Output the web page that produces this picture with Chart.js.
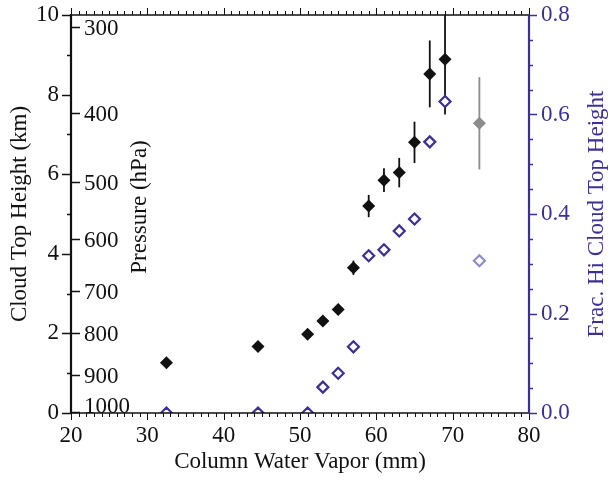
<!DOCTYPE html>
<html>
<head>
<meta charset="utf-8">
<script src="https://cdn.jsdelivr.net/npm/chart.js@4/dist/chart.umd.min.js"></script>
<style>
  html, body { margin: 0; padding: 0; background: #fff; }
  #wrap { width: 608px; height: 482px; position: relative; }
</style>
</head>
<body>
<div id="wrap"><canvas id="chart"></canvas></div>
<script>
// ===== DATA =====
const cwv = [32.5, 44.5, 51, 53, 55, 57, 59, 61, 63, 65, 67, 69];
const cloudTopKm = [1.26, 1.67, 1.98, 2.31, 2.6, 3.65, 5.2, 5.85, 6.04, 6.8, 8.52, 8.89];
const cloudTopErr = [0.1, 0.1, 0.12, 0.12, 0.14, 0.18, 0.28, 0.3, 0.37, 0.52, 0.84, 1.39];
const fracHi = [0, 0, 0, 0.052, 0.08, 0.133, 0.316, 0.328, 0.366, 0.39, 0.545, 0.626];

const cwvOutlier = [73.5];
const cloudTopKmOutlier = [7.28];
const cloudTopErrOutlier = [1.16];
const fracHiOutlier = [0.306];

const pressureLabels = [300, 400, 500, 600, 700, 800, 900, 1000];
const pressureKm = [9.71, 7.55, 5.8, 4.36, 3.07, 2.0, 0.95, 0.03];

const BLUE = '#3b3093';
const FONT = "'Liberation Serif', 'Times New Roman', serif";

const toPoints = (xs, ys) => xs.map((x, i) => ({ x, y: ys[i] }));

// fixed box sizes so the plot area lands where the figure has it
function fixBox(size) {
  return (scale) => {
    if (scale.isHorizontal()) scale.height = size;
    else scale.width = size;
    scale.paddingTop = 0;
    scale.paddingBottom = 0;
    scale.paddingLeft = 0;
    scale.paddingRight = 0;
  };
}

// error bars, ticks, frame and the pressure axis
const framePlugin = {
  id: 'frame',
  beforeDatasetsDraw(chart) {
    const { ctx, chartArea: a, scales: { x, y } } = chart;
    ctx.save();
    ctx.beginPath();
    ctx.rect(a.left, a.top, a.right - a.left, a.bottom - a.top);
    ctx.clip();
    const bars = (xs, ys, errs, color) => {
      ctx.strokeStyle = color;
      ctx.lineWidth = 1.8;
      xs.forEach((v, i) => {
        const px = x.getPixelForValue(v);
        ctx.beginPath();
        ctx.moveTo(px, y.getPixelForValue(ys[i] - errs[i]));
        ctx.lineTo(px, y.getPixelForValue(ys[i] + errs[i]));
        ctx.stroke();
      });
    };
    bars(cwv, cloudTopKm, cloudTopErr, '#111');
    bars(cwvOutlier, cloudTopKmOutlier, cloudTopErrOutlier, '#8c8c8c');
    ctx.restore();
  },
  afterDraw(chart) {
    const { ctx, chartArea: a, scales: { x, y, y1 } } = chart;
    ctx.save();
    const line = (x0, y0, x1, y1_, color, w) => {
      ctx.strokeStyle = color;
      ctx.lineWidth = w;
      ctx.beginPath();
      ctx.moveTo(x0, y0);
      ctx.lineTo(x1, y1_);
      ctx.stroke();
    };

    // x ticks, bottom and top, outward
    for (let v = 20; v <= 80; v++) {
      const px = Math.round(x.getPixelForValue(v)) + 0.5;
      const len = v % 10 === 0 ? 7 : 4;
      line(px, a.bottom, px, a.bottom + len, '#111', 1);
      line(px, a.top, px, a.top - len, '#111', 1);
    }
    // left height ticks, outward
    for (let v = 0; v <= 10; v++) {
      const py = Math.round(y.getPixelForValue(v)) + 0.5;
      line(a.left, py, a.left - (v % 2 === 0 ? 9 : 4), py, '#111', 1.5);
    }
    // right fraction ticks, outward
    for (let k = 0; k <= 16; k++) {
      const py = Math.round(y1.getPixelForValue(k * 0.05)) + 0.5;
      line(a.right, py, a.right + (k % 4 === 0 ? 8 : 4), py, BLUE, 1.5);
    }
    // pressure ticks and labels, inward
    ctx.font = '23px ' + FONT;
    ctx.fillStyle = '#111';
    ctx.textAlign = 'left';
    ctx.textBaseline = 'middle';
    pressureKm.forEach((h, i) => {
      const py = Math.round(y.getPixelForValue(h)) + 0.5;
      line(a.left, py, a.left + 9, py, '#111', 1.5);
      ctx.fillText(String(pressureLabels[i]), a.left + 13, Math.min(py + 1, a.bottom - 6));
    });

    // frame
    line(a.left, a.top, a.right, a.top, '#111', 1.5);
    line(a.left, a.bottom, a.right, a.bottom, '#111', 1.5);
    line(a.left, a.top - 1, a.left, a.bottom + 1, '#111', 2.2);
    line(a.right, a.top, a.right, a.bottom + 1, BLUE, 2.2);

    // rotated titles
    ctx.textAlign = 'center';
    ctx.save();
    ctx.translate(140, 207);
    ctx.rotate(-Math.PI / 2);
    ctx.fillStyle = '#111';
    ctx.fillText('Pressure (hPa)', 0, 0);
    ctx.restore();
    ctx.save();
    ctx.translate(597, (a.top + a.bottom) / 2);
    ctx.rotate(-Math.PI / 2);
    ctx.fillStyle = BLUE;
    ctx.fillText('Frac. Hi Cloud Top Height', 0, 0);
    ctx.restore();
    ctx.restore();
  },
};

new Chart(document.getElementById('chart').getContext('2d'), {
  type: 'scatter',
  data: {
    datasets: [
      {
        label: 'Cloud top height',
        data: toPoints(cwv, cloudTopKm),
        yAxisID: 'y',
        pointStyle: 'rectRot',
        pointRadius: 6.5,
        backgroundColor: '#111',
        borderColor: '#111',
        borderWidth: 0,
      },
      {
        label: 'Cloud top height (outlier)',
        data: toPoints(cwvOutlier, cloudTopKmOutlier),
        yAxisID: 'y',
        pointStyle: 'rectRot',
        pointRadius: 6.5,
        backgroundColor: '#8c8c8c',
        borderColor: '#8c8c8c',
        borderWidth: 0,
      },
      {
        label: 'Frac. Hi',
        data: toPoints(cwv, fracHi),
        yAxisID: 'y1',
        pointStyle: 'rectRot',
        pointRadius: 5.5,
        backgroundColor: '#fff',
        borderColor: BLUE,
        borderWidth: 2.2,
        clip: 0,
      },
      {
        label: 'Frac. Hi (outlier)',
        data: toPoints(cwvOutlier, fracHiOutlier),
        yAxisID: 'y1',
        pointStyle: 'rectRot',
        pointRadius: 5.5,
        backgroundColor: '#fff',
        borderColor: '#8f8ccc',
        borderWidth: 2.2,
        clip: 0,
      },
    ],
  },
  options: {
    responsive: true,
    maintainAspectRatio: false,
    animation: false,
    layout: { padding: { top: 15, left: 0, right: 0, bottom: 0 } },
    plugins: { legend: { display: false }, tooltip: { enabled: false } },
    scales: {
      x: {
        type: 'linear',
        min: 20,
        max: 80,
        grid: { display: false, drawTicks: false },
        border: { display: false },
        ticks: { stepSize: 10, padding: 9, color: '#111', font: { family: FONT, size: 23 }, autoSkip: false },
        title: { display: true, text: 'Column Water Vapor (mm)', color: '#111', font: { family: FONT, size: 23 }, padding: { top: 0, bottom: 6 } },
        afterFit: fixBox(69),
      },
      y: {
        position: 'left',
        min: 0,
        max: 10,
        grid: { display: false, drawTicks: false },
        border: { display: false },
        ticks: { stepSize: 2, padding: 12, color: '#111', font: { family: FONT, size: 23 } },
        title: { display: true, text: 'Cloud Top Height (km)', color: '#111', font: { family: FONT, size: 23 }, padding: { top: 6, bottom: 0 } },
        afterFit: fixBox(71),
      },
      y1: {
        position: 'right',
        min: 0,
        max: 0.8,
        grid: { display: false, drawTicks: false },
        border: { display: false },
        ticks: { stepSize: 0.2, padding: 12, color: BLUE, font: { family: FONT, size: 23 }, callback: v => Number(v).toFixed(1) },
        afterFit: fixBox(79),
      },
    },
  },
  plugins: [framePlugin],
});
</script>
</body>
</html>
